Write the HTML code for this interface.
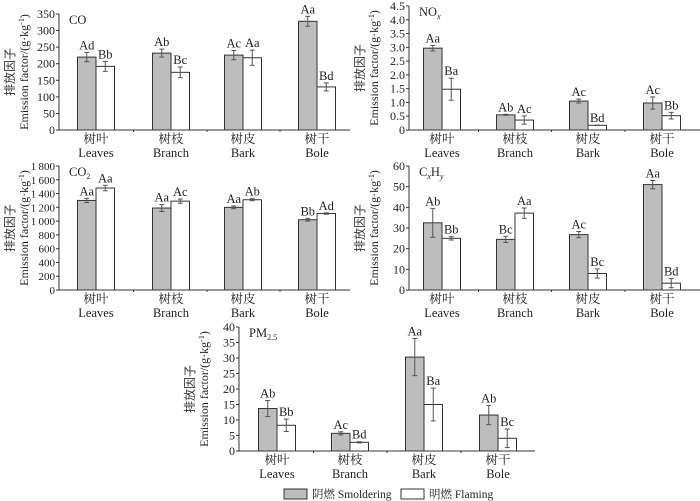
<!DOCTYPE html>
<html><head><meta charset="utf-8"><style>
html,body{margin:0;padding:0;background:#fff;}
svg{display:block;font-family:"Liberation Serif","Noto Serif CJK SC",serif;}
</style></head><body>
<svg id="c" width="700" height="501" viewBox="0 0 700 501"></svg>
<script>
const categoriesCn = ["树叶","树枝","树皮","树干"];
const categoriesEn = ["Leaves","Branch","Bark","Bole"];
const coSmolder = [220,232,226,328];
const coSmolderErr = [14,12,14,15];
const coFlaming = [192,174,218,130];
const coFlamingErr = [15,16,23,12];
const coSmolderSig = ["Ad","Ab","Ac","Aa"];
const coFlamingSig = ["Bb","Bc","Aa","Bd"];
const coTicks = [0,50,100,150,200,250,300,350];
const noxSmolder = [2.97,0.55,1.05,0.98];
const noxSmolderErr = [0.1,0.02,0.07,0.22];
const noxFlaming = [1.48,0.36,0.17,0.52];
const noxFlamingErr = [0.4,0.15,0.01,0.12];
const noxSmolderSig = ["Aa","Ab","Ac","Ac"];
const noxFlamingSig = ["Ba","Ac","Bd","Bb"];
const noxTicks = ["0","0.5","1.0","1.5","2.0","2.5","3.0","3.5","4.0","4.5"];
const co2Smolder = [1300,1190,1200,1020];
const co2SmolderErr = [30,50,20,20];
const co2Flaming = [1480,1290,1310,1110];
const co2FlamingErr = [40,30,15,10];
const co2SmolderSig = ["Aa","Aa","Aa","Bb"];
const co2FlamingSig = ["Aa","Ac","Ab","Ad"];
const co2Ticks = ["0","200","400","600","800","1\u2009000","1\u2009200","1\u2009400","1\u2009600","1\u2009800"];
const cxhySmolder = [32.5,24.5,26.8,51];
const cxhySmolderErr = [7,1.5,1.5,2];
const cxhyFlaming = [25,37.2,8,3.3];
const cxhyFlamingErr = [0.8,2.5,2.2,2.2];
const cxhySmolderSig = ["Ab","Bc","Ac","Aa"];
const cxhyFlamingSig = ["Bb","Aa","Bc","Bd"];
const cxhyTicks = [0,10,20,30,40,50,60];
const pmSmolder = [13.7,5.7,30.3,11.6];
const pmSmolderErr = [2.6,0.5,6,3.1];
const pmFlaming = [8.3,2.8,15,4.1];
const pmFlamingErr = [2,0.2,5.3,3];
const pmSmolderSig = ["Ab","Ac","Aa","Ab"];
const pmFlamingSig = ["Bb","Bd","Ba","Bc"];
const pmTicks = [0,5,10,15,20,25,30,35,40];

const NS="http://www.w3.org/2000/svg";
const svg=document.getElementById('c');
function mk(tag,attrs,parent,text){const e=document.createElementNS(NS,tag);for(const k in attrs)e.setAttribute(k,attrs[k]);if(text!==undefined)e.textContent=text;(parent||svg).appendChild(e);return e;}

function panel(cfg){
  const g=mk('g',{});
  
  
  const ticks=cfg.ticks.map(t=>typeof t==='string'?t:String(t));
  const num=s=>parseFloat(s.replace(/[\s\u2009]/g,''));
  const maxV=num(ticks[ticks.length-1]);
  const y=v=>cfg.bottom-(v/maxV)*(cfg.bottom-cfg.top);
  const axL=mk('line',{x1:cfg.ax,y1:cfg.top,x2:cfg.ax,y2:cfg.bottom,stroke:'#333','stroke-width':1},g);
  
  
  const axB=mk('line',{x1:cfg.ax,y1:cfg.bottom,x2:cfg.right,y2:cfg.bottom,stroke:'#333','stroke-width':1},g);
  
  
  ticks.forEach(t=>{
    const v=num(t);const yy=y(v);
    mk('line',{x1:cfg.ax-3,y1:yy,x2:cfg.ax,y2:yy,stroke:'#333'},g);
    const attrs={x:cfg.ax-4,y:yy+4,'text-anchor':'end','font-size':cfg.tickSize||12,fill:'#222'};
    const tl=mk('text',attrs,g,t);
    
    
  });
  for(let i=0;i<cfg.centers.length-1;i++){
    const xm=(cfg.centers[i]+cfg.centers[i+1])/2;
    mk('line',{x1:xm,y1:cfg.bottom,x2:xm,y2:cfg.bottom+2,stroke:'#333'},g);
  }
  const bw=18.5;
  const series=[[cfg.s,cfg.se,cfg.ss,'#bdbdbd',-bw,'smoldering'],[cfg.f,cfg.fe,cfg.fs,'#fff',0,'flaming']];
  series.forEach(([vals,errs,sig,fill,off,nm])=>{
    vals.forEach((v,i)=>{
      const x0=cfg.centers[i]+off;
      const r=mk('rect',{x:x0,y:y(v),width:bw,height:cfg.bottom-y(v),fill:fill,stroke:'#333','stroke-width':1},g);
      
      
      const xc=x0+bw/2;const yt=y(v+errs[i]);const yb=y(Math.max(0,v-errs[i]));
      mk('line',{x1:xc,y1:yt,x2:xc,y2:yb,stroke:'#555'},g);
      mk('line',{x1:xc-2.5,y1:yt,x2:xc+2.5,y2:yt,stroke:'#555'},g);
      mk('line',{x1:xc-2.5,y1:yb,x2:xc+2.5,y2:yb,stroke:'#555'},g);
      const st=mk('text',{x:xc,y:yt-3,'text-anchor':'middle','font-size':12.5,fill:'#222'},g,sig[i]);
      
      
    });
  });
  cfg.centers.forEach((c,i)=>{
    const a=mk('text',{x:c,y:cfg.bottom+13,'text-anchor':'middle','font-size':12.5,fill:'#222'},g,categoriesCn[i]);
    
    
    const b=mk('text',{x:c,y:cfg.bottom+27,'text-anchor':'middle','font-size':12.5,fill:'#222'},g,categoriesEn[i]);
    
    
  });
  const cy=(cfg.top+cfg.bottom)/2;
  const t1=mk('text',{x:0,y:0,transform:`translate(${cfg.ax-45},${cy}) rotate(-90)`,'text-anchor':'middle','font-size':12,'font-family':'"Noto Sans CJK SC",sans-serif',fill:'#333'},g,'排放因子');
  
  
  const t2=mk('text',{x:0,y:0,transform:`translate(${cfg.ax-31},${cy}) rotate(-90)`,'text-anchor':'middle','font-size':12,fill:'#222'},g);
  
  
  t2.innerHTML='Emission factor/(g·kg<tspan dy="-4" font-size="8">-1</tspan><tspan dy="4">)</tspan>';
  const tt=mk('text',{x:cfg.ax+10,y:cfg.top+10,'font-size':12.5,fill:'#222'},g);
  
  
  tt.innerHTML=cfg.title;
}

const cTop=[96,171,243,317];
panel({name:'co',ax:59,right:350,top:14,bottom:130,centers:cTop,ticks:coTicks,s:coSmolder,se:coSmolderErr,f:coFlaming,fe:coFlamingErr,ss:coSmolderSig,fs:coFlamingSig,title:'CO'});
panel({name:'nox',ax:409,right:700,top:6,bottom:130,centers:[442,515,588,662],ticks:noxTicks,s:noxSmolder,se:noxSmolderErr,f:noxFlaming,fe:noxFlamingErr,ss:noxSmolderSig,fs:noxFlamingSig,title:'NO<tspan font-size="8" dy="3" font-style="italic">x</tspan>'});
panel({name:'co2',ax:59,right:350,top:166,bottom:290,centers:cTop,ticks:co2Ticks,tickSize:11,s:co2Smolder,se:co2SmolderErr,f:co2Flaming,fe:co2FlamingErr,ss:co2SmolderSig,fs:co2FlamingSig,title:'CO<tspan font-size="8" dy="3">2</tspan>'});
panel({name:'cxhy',ax:409,right:700,top:166,bottom:290,centers:[442,515,588,662],ticks:cxhyTicks,s:cxhySmolder,se:cxhySmolderErr,f:cxhyFlaming,fe:cxhyFlamingErr,ss:cxhySmolderSig,fs:cxhyFlamingSig,title:'C<tspan font-size="8" dy="3" font-style="italic">x</tspan><tspan dy="-3">H</tspan><tspan font-size="8" dy="3" font-style="italic">y</tspan>'});
panel({name:'pm25',ax:239,right:535,top:327,bottom:451,centers:[277,350,424,498],ticks:pmTicks,s:pmSmolder,se:pmSmolderErr,f:pmFlaming,fe:pmFlamingErr,ss:pmSmolderSig,fs:pmFlamingSig,title:'PM<tspan font-size="8" dy="3">2.5</tspan>'});

const lg=mk('g',{});


const l1=mk('g',{},lg);


mk('rect',{x:284,y:489,width:23,height:10,fill:'#bdbdbd',stroke:'#333'},l1);
mk('text',{x:312,y:498,'font-size':11.5,fill:'#222'},l1,'阴燃 Smoldering');
const l2=mk('g',{},lg);


mk('rect',{x:401,y:489,width:23,height:10,fill:'#fff',stroke:'#333'},l2);
mk('text',{x:429,y:498,'font-size':11.5,fill:'#222'},l2,'明燃 Flaming');
</script>
</body></html>
